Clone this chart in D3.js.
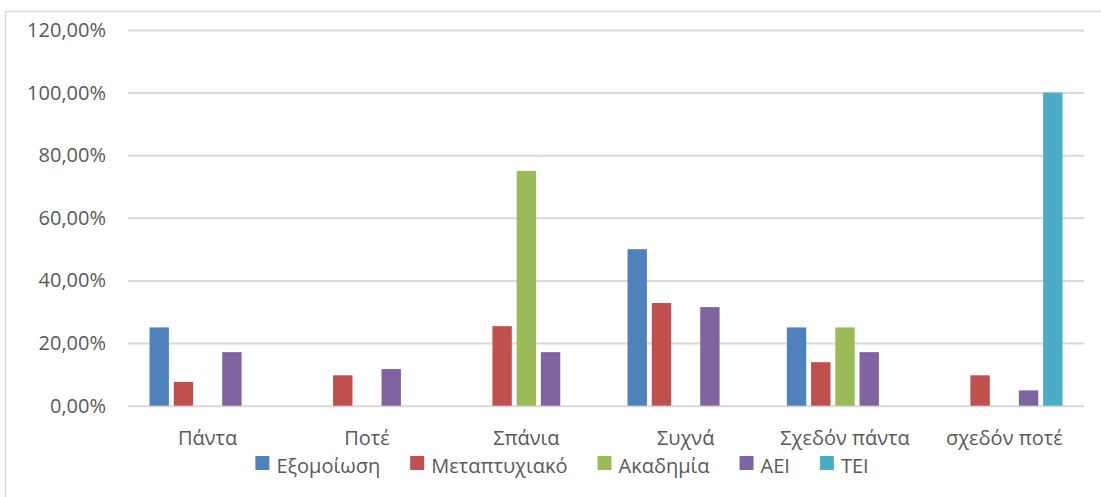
<!DOCTYPE html>
<html>
<head>
<meta charset="utf-8">
<script src="https://cdn.jsdelivr.net/npm/d3@7"></script>
<style>
  html, body { margin: 0; padding: 0; background: #ffffff; }
  svg text { font-family: "Open Sans", "Liberation Sans", sans-serif; fill: #595959; }
</style>
</head>
<body>
<svg id="chart" width="1101" height="497"></svg>
<script>
// Answer categories along the x axis
const categories = ["Πάντα", "Ποτέ", "Σπάνια", "Συχνά", "Σχεδόν πάντα", "σχεδόν ποτέ"];

// Series names (legend order) and their colours
const seriesNames = ["Εξομοίωση", "Μεταπτυχιακό", "Ακαδημία", "ΑΕΙ", "ΤΕΙ"];
const seriesColors = ["#4f81bd", "#c0504d", "#9bbb59", "#8064a2", "#4bacc6"];

// Percentages per category, one array per series
const exomoiosi     = [25, 0, 0, 50, 25, 0];
const metaptyxiako  = [7.6, 9.7, 25.4, 32.8, 13.9, 9.7];
const akadimia      = [0, 0, 75, 0, 25, 0];
const aei           = [17.1, 11.7, 17.1, 31.5, 17.1, 4.9];
const tei           = [0, 0, 0, 0, 0, 100];

// Y axis ticks
const yTicks = [0, 20, 40, 60, 80, 100, 120];

const seriesValues = [exomoiosi, metaptyxiako, akadimia, aei, tei];

const svg = d3.select("#chart");

// Chart frame
svg.append("rect")
  .attr("x", 5.5).attr("y", 11.5)
  .attr("width", 1110).attr("height", 500)
  .attr("fill", "#ffffff")
  .attr("stroke", "#d9d9d9").attr("stroke-width", 1.5);

const plot = { left: 128, right: 1084, top: 30, bottom: 405.7 };

const x0 = d3.scaleBand()
  .domain(categories)
  .range([plot.left, plot.right])
  .paddingInner(0.27)
  .paddingOuter(0.135);

const x1 = d3.scaleBand()
  .domain(seriesNames)
  .range([0, x0.bandwidth()])
  .paddingInner(0.2)
  .paddingOuter(0);

const y = d3.scaleLinear()
  .domain([0, 120])
  .range([plot.bottom, plot.top]);

const color = d3.scaleOrdinal().domain(seriesNames).range(seriesColors);

const grLocale = d3.formatLocale({ decimal: ",", thousands: ".", grouping: [3], currency: ["", "€"] });
const pctFmt = d => grLocale.format(".2f")(d) + "%";

// Horizontal gridlines with tick labels
const yAxis = d3.axisLeft(y)
  .tickValues(yTicks)
  .tickFormat(pctFmt)
  .tickSize(-(plot.right - plot.left))
  .tickPadding(22);

const gy = svg.append("g")
  .attr("transform", `translate(${plot.left},0)`)
  .call(yAxis);
gy.select(".domain").remove();
gy.selectAll(".tick line")
  .attr("stroke", "#d9d9d9")
  .attr("stroke-width", 2);
gy.selectAll(".tick text")
  .attr("font-size", 20)
  .attr("fill", "#595959");

// Bars
const groups = svg.append("g").selectAll("g")
  .data(categories)
  .join("g")
  .attr("transform", c => `translate(${x0(c)},0)`);

groups.selectAll("rect")
  .data((c, i) => seriesNames.map((s, k) => ({ series: s, value: seriesValues[k][i] })))
  .join("rect")
  .attr("x", d => x1(d.series))
  .attr("width", x1.bandwidth())
  .attr("y", d => y(d.value))
  .attr("height", d => y(0) - y(d.value))
  .attr("fill", d => color(d.series));

// Category labels
const xAxis = d3.axisBottom(x0).tickSize(0).tickPadding(25);
const gx = svg.append("g")
  .attr("transform", `translate(0,${plot.bottom})`)
  .call(xAxis);
gx.select(".domain").remove();
gx.selectAll(".tick text")
  .attr("font-size", 20)
  .attr("fill", "#595959");

// Legend, laid out from measured text widths and centred
const legendGap = 30;
const legend = svg.append("g").attr("transform", "translate(0,470)");
const items = legend.selectAll("g")
  .data(seriesNames)
  .join("g");
items.append("rect")
  .attr("width", 14).attr("height", 14)
  .attr("y", -14)
  .attr("fill", d => color(d));
items.append("text")
  .attr("x", 21)
  .attr("y", 3)
  .attr("font-size", 20)
  .text(d => d);

let cursor = 0;
const offsets = [];
items.each(function () {
  const w = 21 + d3.select(this).select("text").node().getComputedTextLength();
  offsets.push(cursor);
  cursor += w + legendGap;
});
const total = cursor - legendGap;
const startX = 562 - total / 2;
items.attr("transform", (d, i) => `translate(${startX + offsets[i]},0)`);
</script>
</body>
</html>
